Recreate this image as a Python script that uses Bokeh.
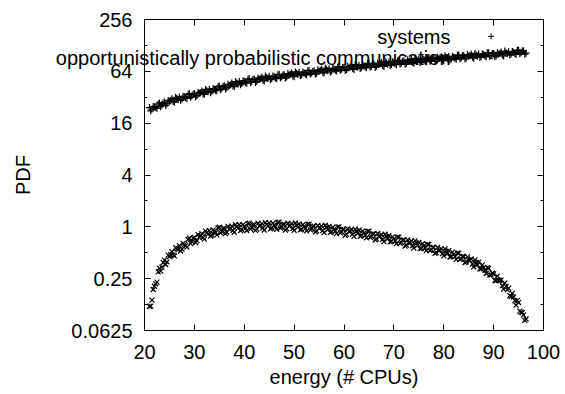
from bokeh.plotting import figure
from bokeh.models import Range1d, FixedTicker, LinearAxis, LogAxis, CustomJSTickFormatter, Label, Title
from bokeh.embed import file_html
from bokeh.resources import INLINE

energy = [
    21, 21.5, 22, 22.5, 23, 23.5, 24, 24.5, 25, 25.5,
    26, 26.5, 27, 27.5, 28, 28.5, 29, 29.5, 30, 30.5,
    31, 31.5, 32, 32.5, 33, 33.5, 34, 34.5, 35, 35.5,
    36, 36.5, 37, 37.5, 38, 38.5, 39, 39.5, 40, 40.5,
    41, 41.5, 42, 42.5, 43, 43.5, 44, 44.5, 45, 45.5,
    46, 46.5, 47, 47.5, 48, 48.5, 49, 49.5, 50, 50.5,
    51, 51.5, 52, 52.5, 53, 53.5, 54, 54.5, 55, 55.5,
    56, 56.5, 57, 57.5, 58, 58.5, 59, 59.5, 60, 60.5,
    61, 61.5, 62, 62.5, 63, 63.5, 64, 64.5, 65, 65.5,
    66, 66.5, 67, 67.5, 68, 68.5, 69, 69.5, 70, 70.5,
    71, 71.5, 72, 72.5, 73, 73.5, 74, 74.5, 75, 75.5,
    76, 76.5, 77, 77.5, 78, 78.5, 79, 79.5, 80, 80.5,
    81, 81.5, 82, 82.5, 83, 83.5, 84, 84.5, 85, 85.5,
    86, 86.5, 87, 87.5, 88, 88.5, 89, 89.5, 90, 90.5,
    91, 91.5, 92, 92.5, 93, 93.5, 94, 94.5, 95, 95.5,
    96, 96.5,
]

systems = [
    24.3, 23.3, 24.8, 23.9, 27.5, 26.1, 28.1, 26.9, 28.8, 30.8,
    28.1, 31.0, 32.2, 30.6, 32.4, 31.0, 35.2, 33.0, 35.3, 33.5,
    35.5, 37.9, 34.6, 38.1, 39.6, 37.5, 39.8, 38.1, 43.2, 40.7,
    43.6, 41.3, 43.8, 46.7, 42.6, 47.0, 48.8, 46.3, 49.0, 46.6,
    52.5, 49.0, 52.1, 49.1, 51.6, 54.7, 49.5, 54.3, 56.0, 52.7,
    55.3, 52.5, 59.1, 55.2, 58.5, 55.0, 57.9, 61.3, 55.4, 60.6,
    62.3, 58.6, 61.5, 58.3, 65.6, 61.2, 64.9, 61.0, 64.0, 67.7,
    61.2, 66.9, 68.8, 64.7, 68.0, 64.4, 72.5, 67.5, 71.6, 67.2,
    70.5, 74.6, 67.2, 73.4, 75.4, 70.8, 74.2, 70.3, 79.0, 73.5,
    77.9, 73.1, 76.7, 81.1, 73.0, 79.8, 82.0, 76.9, 80.7, 76.4,
    85.9, 79.9, 84.6, 79.4, 83.3, 88.0, 79.3, 86.7, 89.0, 83.5,
    87.5, 82.7, 92.8, 86.2, 91.2, 85.4, 89.5, 94.5, 85.1, 92.8,
    95.2, 89.2, 93.5, 88.4, 99.2, 92.2, 97.5, 91.4, 95.7, 100.9,
    90.8, 99.0, 101.5, 95.1, 99.5, 94.1, 105.5, 97.9, 103.4, 97.0,
    101.6, 107.3, 96.6, 105.5, 108.2, 101.5, 106.3, 100.5, 112.8, 104.9,
    110.8, 103.9,
]

opportunistic = [
    0.119, 0.141, 0.204, 0.228, 0.330, 0.340, 0.410, 0.391, 0.450, 0.514,
    0.459, 0.556, 0.605, 0.550, 0.622, 0.582, 0.737, 0.674, 0.756, 0.688,
    0.760, 0.835, 0.720, 0.853, 0.907, 0.804, 0.887, 0.805, 0.990, 0.883,
    0.966, 0.865, 0.940, 1.017, 0.864, 1.009, 1.058, 0.926, 1.010, 0.905,
    1.100, 0.975, 1.061, 0.944, 1.020, 1.091, 0.918, 1.066, 1.112, 0.968,
    1.051, 0.937, 1.133, 0.994, 1.071, 0.949, 1.020, 1.086, 0.909, 1.045,
    1.080, 0.935, 1.010, 0.896, 1.078, 0.946, 1.019, 0.897, 0.960, 1.022,
    0.855, 0.983, 1.015, 0.874, 0.938, 0.833, 1.001, 0.873, 0.935, 0.823,
    0.880, 0.931, 0.774, 0.889, 0.918, 0.790, 0.847, 0.746, 0.891, 0.776,
    0.830, 0.725, 0.770, 0.813, 0.675, 0.770, 0.788, 0.677, 0.724, 0.637,
    0.759, 0.660, 0.704, 0.614, 0.650, 0.685, 0.567, 0.645, 0.659, 0.564,
    0.602, 0.528, 0.627, 0.543, 0.578, 0.502, 0.530, 0.556, 0.459, 0.520,
    0.529, 0.451, 0.479, 0.419, 0.495, 0.427, 0.452, 0.391, 0.410, 0.423,
    0.342, 0.385, 0.389, 0.324, 0.337, 0.287, 0.330, 0.276, 0.284, 0.237,
    0.240, 0.241, 0.189, 0.203, 0.194, 0.155, 0.153, 0.123, 0.132, 0.102,
    0.095, 0.085,
]

energy_b = [
    21.25, 21.75, 22.25, 22.75, 23.25, 23.75, 24.25, 24.75, 25.25, 25.75,
    26.25, 26.75, 27.25, 27.75, 28.25, 28.75, 29.25, 29.75, 30.25, 30.75,
    31.25, 31.75, 32.25, 32.75, 33.25, 33.75, 34.25, 34.75, 35.25, 35.75,
    36.25, 36.75, 37.25, 37.75, 38.25, 38.75, 39.25, 39.75, 40.25, 40.75,
    41.25, 41.75, 42.25, 42.75, 43.25, 43.75, 44.25, 44.75, 45.25, 45.75,
    46.25, 46.75, 47.25, 47.75, 48.25, 48.75, 49.25, 49.75, 50.25, 50.75,
    51.25, 51.75, 52.25, 52.75, 53.25, 53.75, 54.25, 54.75, 55.25, 55.75,
    56.25, 56.75, 57.25, 57.75, 58.25, 58.75, 59.25, 59.75, 60.25, 60.75,
    61.25, 61.75, 62.25, 62.75, 63.25, 63.75, 64.25, 64.75, 65.25, 65.75,
    66.25, 66.75, 67.25, 67.75, 68.25, 68.75, 69.25, 69.75, 70.25, 70.75,
    71.25, 71.75, 72.25, 72.75, 73.25, 73.75, 74.25, 74.75, 75.25, 75.75,
    76.25, 76.75, 77.25, 77.75, 78.25, 78.75, 79.25, 79.75, 80.25, 80.75,
    81.25, 81.75, 82.25, 82.75, 83.25, 83.75, 84.25, 84.75, 85.25, 85.75,
    86.25, 86.75, 87.25, 87.75, 88.25, 88.75, 89.25, 89.75, 90.25, 90.75,
    91.25, 91.75, 92.25, 92.75, 93.25, 93.75, 94.25, 94.75, 95.25, 95.75,
    96.25,
]

systems_b = [
    22.2, 25.0, 24.1, 26.7, 24.9, 27.4, 25.7, 29.4, 29.4, 28.4,
    32.0, 30.1, 29.5, 32.8, 31.5, 34.6, 31.9, 34.7, 32.2, 36.6,
    36.2, 35.0, 39.4, 37.0, 36.2, 40.2, 38.6, 42.5, 39.2, 42.7,
    39.8, 45.2, 44.7, 43.2, 48.5, 45.6, 44.6, 49.6, 47.5, 51.9,
    47.5, 51.5, 47.6, 53.7, 52.6, 50.5, 56.4, 52.7, 51.1, 56.5,
    53.7, 58.6, 53.6, 58.0, 53.4, 60.2, 59.1, 56.6, 63.0, 58.8,
    56.9, 62.8, 59.7, 65.1, 59.4, 64.3, 59.2, 66.7, 65.3, 62.6,
    69.7, 64.9, 62.9, 69.4, 66.0, 71.9, 65.7, 71.0, 65.3, 73.5,
    71.9, 68.9, 76.5, 71.3, 68.9, 75.9, 72.0, 78.4, 71.5, 77.3,
    71.1, 79.9, 78.2, 74.9, 83.1, 77.4, 74.9, 82.5, 78.3, 85.2,
    77.8, 83.9, 77.2, 86.8, 85.0, 81.3, 90.3, 84.2, 81.3, 89.5,
    84.9, 92.2, 84.0, 90.6, 83.2, 93.5, 91.3, 87.3, 96.8, 90.1,
    86.9, 95.7, 90.7, 98.7, 89.9, 96.9, 89.0, 100.0, 97.6, 93.2,
    103.4, 96.1, 92.7, 101.9, 96.5, 104.9, 95.5, 102.9, 94.4, 106.1,
    103.6, 99.1, 110.0, 102.4, 98.8, 108.8, 103.1, 112.2, 102.1, 110.2,
    101.1,
]

opportunistic_b = [
    0.120, 0.187, 0.218, 0.300, 0.306, 0.385, 0.365, 0.470, 0.474, 0.470,
    0.572, 0.545, 0.524, 0.642, 0.606, 0.714, 0.639, 0.738, 0.657, 0.810,
    0.785, 0.751, 0.891, 0.822, 0.782, 0.920, 0.854, 0.970, 0.851, 0.952,
    0.833, 1.010, 0.964, 0.907, 1.062, 0.965, 0.902, 1.059, 0.960, 1.090,
    0.940, 1.050, 0.909, 1.102, 1.040, 0.969, 1.122, 1.020, 0.948, 1.102,
    0.999, 1.123, 0.968, 1.061, 0.918, 1.102, 1.040, 0.960, 1.111, 0.990,
    0.920, 1.059, 0.960, 1.068, 0.921, 1.009, 0.873, 1.037, 0.979, 0.903,
    1.045, 0.931, 0.860, 0.990, 0.892, 0.992, 0.851, 0.931, 0.797, 0.950,
    0.893, 0.822, 0.941, 0.842, 0.777, 0.893, 0.800, 0.888, 0.757, 0.827,
    0.707, 0.837, 0.780, 0.717, 0.820, 0.728, 0.667, 0.765, 0.684, 0.758,
    0.644, 0.702, 0.599, 0.707, 0.658, 0.603, 0.688, 0.609, 0.557, 0.637,
    0.567, 0.627, 0.531, 0.577, 0.491, 0.578, 0.536, 0.489, 0.556, 0.490,
    0.446, 0.508, 0.451, 0.496, 0.418, 0.452, 0.383, 0.448, 0.408, 0.369,
    0.413, 0.361, 0.325, 0.362, 0.313, 0.336, 0.275, 0.289, 0.237, 0.268,
    0.238, 0.207, 0.223, 0.186, 0.159, 0.169, 0.139, 0.140, 0.105, 0.101,
    0.082,
]

series_names = ["systems", "opportunistically probabilistic communication"]
x_title = "energy (# CPUs)"
y_title = "PDF"
x_ticks = [20, 30, 40, 50, 60, 70, 80, 90, 100]
y_ticks = [0.0625, 0.25, 1, 4, 16, 64, 256]
y_minor = [0.125, 0.5, 2, 8, 32, 128]

# layout constants (pixels)
FRAME_W, FRAME_H = 399, 311
key_text_sx = 306          # right edge of key text, from frame left
key_text_sy = 294          # first key entry, from frame bottom
key2_offset = 93           # second key entry: right edge inset from frame right
key2_standoff = -99        # second key entry: shift down from top panel
# key sample markers (data coordinates inside the frame)
key_sample_x = 89.5
key_sample_y = [163.2, 93.0]

FONT = "Liberation Sans"
FS = "20px"

p = figure(frame_width=FRAME_W, frame_height=FRAME_H,
           min_border_left=144, min_border_right=21,
           min_border_top=19, min_border_bottom=64,
           x_range=Range1d(20, 100), y_range=Range1d(0.0625, 256),
           y_axis_type="log", output_backend="svg", toolbar_location=None,
           background_fill_color="white", border_fill_color="white")

p.xgrid.visible = False
p.ygrid.visible = False
p.outline_line_color = "black"
p.outline_line_width = 1
p.outline_line_alpha = 1

tick_fmt = CustomJSTickFormatter(code="return tick.toString();")
blank_fmt = CustomJSTickFormatter(code="return '';")

def style_axis(ax, labels=True):
    ax.axis_line_color = "black"
    ax.major_tick_line_color = "black"
    ax.minor_tick_line_color = "black"
    ax.major_tick_in = 6
    ax.major_tick_out = 0
    ax.minor_tick_in = 3
    ax.minor_tick_out = 0
    ax.major_label_text_font = FONT
    ax.major_label_text_font_size = FS if labels else "1px"
    ax.major_label_text_color = "black"
    ax.axis_label_text_font = FONT
    ax.axis_label_text_font_size = FS
    ax.axis_label_text_font_style = "normal"
    ax.axis_label_text_color = "black"

xa = p.xaxis[0]
xa.ticker = FixedTicker(ticks=x_ticks)
xa.formatter = tick_fmt
xa.axis_label = x_title
style_axis(xa)
xa.major_label_standoff = 14
xa.axis_label_standoff = 4

ya = p.yaxis[0]
ya.ticker = FixedTicker(ticks=y_ticks, minor_ticks=y_minor)
ya.formatter = tick_fmt
ya.axis_label = y_title
style_axis(ya)
ya.major_label_standoff = 12
ya.axis_label_standoff = 34

top = LinearAxis(ticker=FixedTicker(ticks=x_ticks), formatter=blank_fmt)
style_axis(top, labels=False)
top.major_label_standoff = 0
top.axis_line_color = None
p.add_layout(top, "above")

right = LogAxis(ticker=FixedTicker(ticks=y_ticks, minor_ticks=y_minor), formatter=blank_fmt)
style_axis(right, labels=False)
right.major_label_standoff = 0
right.axis_line_color = None
p.add_layout(right, "right")

# key entry 1 (fits inside the frame)
p.add_layout(Label(x=key_text_sx, y=key_text_sy, x_units="screen", y_units="screen",
                   text=series_names[0], text_align="right", text_baseline="middle",
                   text_font=FONT, text_font_size=FS, text_color="black",
                   level="guide"))
# key entry 2 (runs past the frame's left edge): a panel title shifted into place
key2 = Title(text=series_names[1], align="right", vertical_align="bottom",
             offset=key2_offset, standoff=key2_standoff,
             text_font=FONT, text_font_size=FS, text_font_style="normal",
             text_color="black", level="guide")
p.add_layout(key2, "above")

r1 = p.scatter(x=[key_sample_x], y=[key_sample_y[0]], marker="cross", size=6,
               line_color="black", line_width=1)
r2 = p.scatter(x=[key_sample_x], y=[key_sample_y[1]], marker="x", size=6,
               line_color="black", line_width=1)

r3 = p.scatter(x=energy + energy_b, y=systems + systems_b, marker="cross", size=7,
               line_color="black", line_width=1.2)
r4 = p.scatter(x=energy + energy_b, y=opportunistic + opportunistic_b, marker="x", size=7,
               line_color="black", line_width=1.2)
for r in (r1, r2, r3, r4):
    r.level = "annotation"

open("out.html", "w").write(file_html(p, INLINE))
